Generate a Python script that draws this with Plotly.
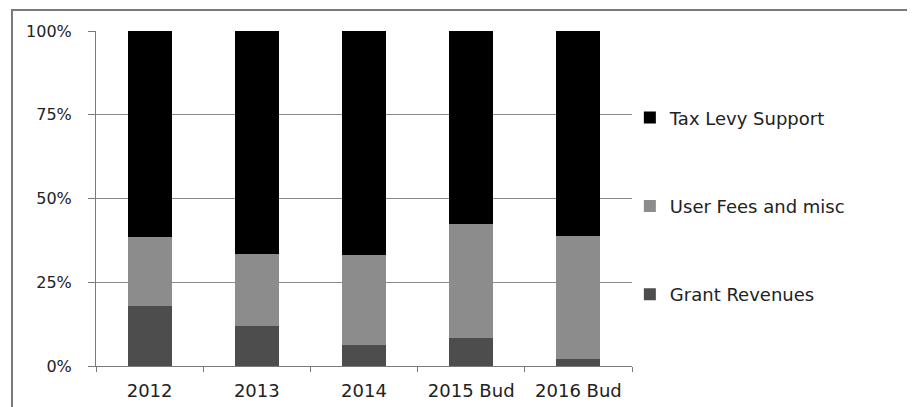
import plotly.graph_objects as go

categories = ["2012", "2013", "2014", "2015 Bud", "2016 Bud"]
grant_revenues = [17.9, 12.0, 6.3, 8.5, 2.0]
user_fees = [20.7, 21.4, 26.7, 33.8, 36.8]
tax_levy = [61.4, 66.6, 67.0, 57.7, 61.2]
tick_vals = [0, 25, 50, 75, 100]
tick_text = ["0%", "25%", "50%", "75%", "100%"]

FONT = "DejaVu Sans"
W, H = 915, 407
L, R, T, B = 88, 291, 23, 49
pw, ph = W - L - R, H - T - B

fig = go.Figure()
series = [
    ("Grant Revenues", grant_revenues, "#4d4d4d", 3),
    ("User Fees and misc", user_fees, "#8c8c8c", 2),
    ("Tax Levy Support", tax_levy, "#000000", 1),
]
for name, vals, col, rank in series:
    fig.add_trace(go.Bar(
        x=categories, y=vals, name=name, legendgroup=name, legendrank=rank,
        marker=dict(color=col, line=dict(width=0)),
        width=0.41,
    ))

fig.update_layout(
    width=W, height=H,
    margin=dict(l=L, r=R, t=T, b=B, pad=0),
    barmode="stack",
    paper_bgcolor="white", plot_bgcolor="white",
    font=dict(family=FONT, size=17, color="#222222"),
    showlegend=True,
    legend=dict(
        x=0.996, xanchor="left", y=0.796, yanchor="top",
        traceorder="grouped", tracegroupgap=62,
        font=dict(family=FONT, size=18, color="#222222"),
        itemwidth=30, bgcolor="rgba(0,0,0,0)",
    ),
    xaxis=dict(
        type="category", showgrid=False,
        showline=True, linecolor="#7a7a7a", linewidth=1,
        ticks="outside", tickson="boundaries", ticklen=5, tickcolor="#7a7a7a",
        ticklabelstandoff=8,
        tickfont=dict(family=FONT, size=18, color="#222222"),
    ),
    yaxis=dict(
        range=[0, 100], tickvals=tick_vals, ticktext=tick_text,
        showgrid=True, gridcolor="#8a8a8a", gridwidth=1,
        showline=True, linecolor="#7a7a7a", linewidth=1,
        ticks="outside", ticklen=7, tickcolor="#7a7a7a",
        ticklabelstandoff=13,
        tickfont=dict(family=FONT, size=16, color="#222222"),
        zeroline=False,
    ),
    shapes=[dict(
        type="rect", xref="paper", yref="paper",
        x0=(4 - L) / pw, x1=(930 - L) / pw,
        y0=-(H + 20 - (H - B)) / ph, y1=1 + (T - 2) / ph,
        line=dict(color="#7a7a7a", width=2), fillcolor="rgba(0,0,0,0)",
        layer="below",
    )],
)

fig.write_html("out.html")
